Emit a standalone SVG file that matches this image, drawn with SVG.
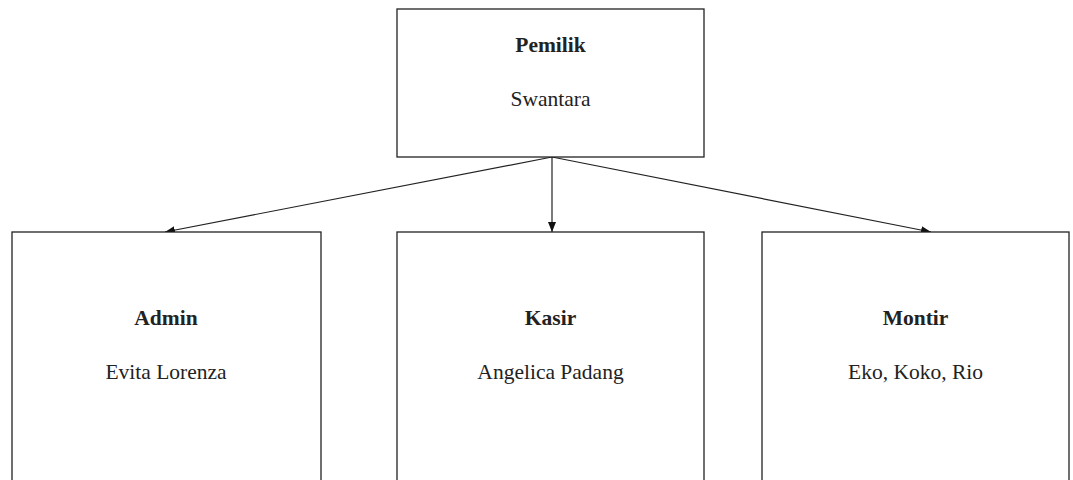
<svg xmlns="http://www.w3.org/2000/svg" width="1073" height="480" viewBox="0 0 1073 480">
<style>
.box{fill:#fff;stroke:#222;stroke-width:1.3}
.t{font-family:"Liberation Serif","Times New Roman",serif;font-size:21.5px;fill:#222;text-anchor:middle}
.b{font-weight:bold}
.c{stroke:#222;stroke-width:1.2;fill:none;marker-end:url(#ah)}
</style>
<defs>
<marker id="ah" viewBox="0 0 10 10" refX="10" refY="5" markerWidth="10" markerHeight="10" markerUnits="userSpaceOnUse" orient="auto">
<path d="M0,1 L10,5 L0,9 Z" fill="#111"/>
</marker>
</defs>
<rect width="1073" height="480" fill="#fff"/>
<g id="connectors">
<line class="c" x1="552" y1="157" x2="165" y2="232"/>
<line class="c" x1="552" y1="157" x2="552" y2="232"/>
<line class="c" x1="552" y1="157" x2="931" y2="232"/>
</g>
<g id="pemilik">
<rect class="box" x="397" y="9" width="307" height="148"/>
<text class="t b" x="550.5" y="52">Pemilik</text>
<text class="t" x="550.5" y="106">Swantara</text>
</g>
<g id="admin">
<rect class="box" x="12" y="232" width="309" height="260"/>
<text class="t b" x="166" y="325">Admin</text>
<text class="t" x="166" y="379">Evita Lorenza</text>
</g>
<g id="kasir">
<rect class="box" x="397" y="232" width="307" height="260"/>
<text class="t b" x="550.5" y="325">Kasir</text>
<text class="t" x="550.5" y="379">Angelica Padang</text>
</g>
<g id="montir">
<rect class="box" x="762" y="232" width="307" height="260"/>
<text class="t b" x="915.5" y="325">Montir</text>
<text class="t" x="915.5" y="379">Eko, Koko, Rio</text>
</g>
</svg>
